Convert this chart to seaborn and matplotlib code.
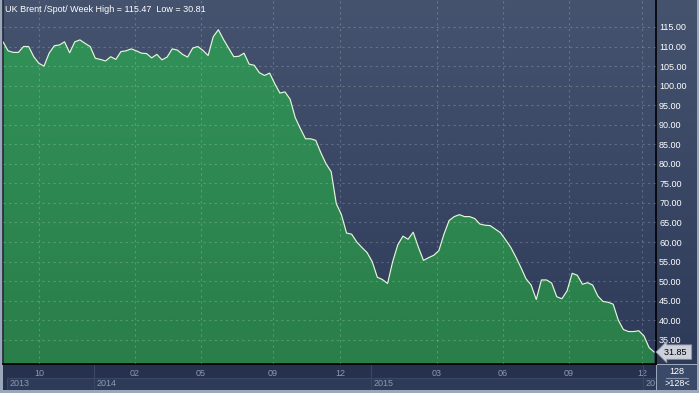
import numpy as np
import pandas as pd
import matplotlib
matplotlib.use("Agg")
import matplotlib.pyplot as plt
import seaborn as sns
from matplotlib.patches import Rectangle
from matplotlib.colors import LinearSegmentedColormap
from matplotlib.lines import Line2D

# weekly closes of UK Brent
prices = [
    111.2, 108.9, 108.5, 108.5, 110.0, 110.0, 107.4, 105.7, 105.0, 108.3,
    110.2, 110.4, 111.2, 108.4, 111.2, 111.7, 110.8, 110.0, 107.0, 106.7,
    106.3, 107.4, 106.7, 108.7, 108.9, 109.4, 108.9, 108.3, 108.2, 107.1,
    108.0, 106.6, 107.3, 109.4, 109.1, 108.0, 107.3, 109.6, 110.0, 109.0,
    107.7, 112.5, 114.3, 111.8, 109.6, 107.4, 107.5, 108.3, 105.5, 105.2,
    103.3, 102.6, 103.2, 100.5, 98.1, 98.4, 96.5, 91.8, 89.0, 86.4,
    86.4, 86.0, 82.8, 80.0, 78.0, 69.8, 67.0, 62.3, 62.0, 60.0,
    58.6, 57.3, 55.0, 51.0, 50.4, 49.4, 55.0, 59.3, 61.5, 60.7,
    62.5, 58.7, 55.3, 56.0, 56.6, 57.8, 62.0, 65.5, 66.5, 67.0,
    66.5, 66.5, 66.0, 64.6, 64.3, 64.2, 63.3, 62.4, 60.6, 58.7,
    56.2, 53.5, 50.6, 49.0, 45.3, 50.3, 50.3, 49.5, 46.0, 45.5,
    47.5, 52.0, 51.5, 49.2, 49.6, 49.0, 46.2, 44.8, 44.6, 44.1,
    40.0, 37.6, 37.1, 37.1, 37.3, 36.0, 33.0, 31.85,
]
last_price = 31.85
title = "UK Brent /Spot/ Week High = 115.47  Low = 30.81"

# month ticks and year bands, in week-index units
month_pos = [7.0, 25.7, 38.6, 52.6, 65.7, 84.6, 97.5, 110.3, 124.6]
month_lbl = ["10", "02", "05", "09", "12", "03", "06", "09", "12"]
year_pos = [0.8, 17.7, 71.7, 124.9, 127.35]
year_lbl = ["2013", "2014", "2015", "20"]
y_ticks = [35, 40, 45, 50, 55, 60, 65, 70, 75, 80, 85, 90, 95, 100, 105, 110, 115]

df = pd.DataFrame({"week": np.arange(len(prices)), "price": prices})

sns.set_style("dark")
plt.rcParams["font.family"] = ["Liberation Sans", "DejaVu Sans"]

W, H = 699, 393
fs = 6.5
XLIM = (0, 127.35)
YLIM = (28.8, 121.9)

fig = plt.figure(figsize=(W / 100, H / 100), dpi=100)
fig.patch.set_facecolor("#9ba7ba")


def box(x0, y0, x1, y1):
    # pixel box (top-left origin) -> figure fraction rect
    return [x0 / W, 1 - y1 / H, (x1 - x0) / W, (y1 - y0) / H]


def rect(x0, y0, x1, y1, color):
    fig.add_artist(Rectangle((x0 / W, 1 - y1 / H), (x1 - x0) / W, (y1 - y0) / H,
                             transform=fig.transFigure, color=color, lw=0, zorder=-5))


# bottom date strip and right price strip
rect(3, 364, 656, 390, "#25314d")
rect(657, 365, 697, 390, "#3b4968")
grad = np.linspace(0, 1, 256).reshape(-1, 1)
bg_cmap = LinearSegmentedColormap.from_list("bg", ["#46536f", "#2d3b59"])

axr = fig.add_axes(box(656, 0, 697, 364))
axr.imshow(grad, cmap=bg_cmap, aspect="auto")
axr.axis("off")
axr.set_zorder(-1)

ax = fig.add_axes(box(3, 0, 656, 364))
ax.set_xlim(XLIM)
ax.set_ylim(YLIM)
ax.imshow(grad, cmap=bg_cmap, extent=[*XLIM, *YLIM], aspect="auto", zorder=0)

# green area with a slight vertical gradient
area = ax.fill_between(df["week"], df["price"], YLIM[0], facecolor="none", lw=0)
green = LinearSegmentedColormap.from_list("gr", ["#32925a", "#2a7e49"])
gim = ax.imshow(grad, cmap=green, extent=[*XLIM, *YLIM], aspect="auto", zorder=1)
gim.set_clip_path(area.get_paths()[0], transform=ax.transData)

sns.lineplot(data=df, x="week", y="price", ax=ax, color="#e4f6da", lw=0.85, zorder=3)
ax.set_xlim(XLIM)
ax.set_ylim(YLIM)
ax.set_xlabel("")
ax.set_ylabel("")

ax.set_axisbelow(False)
ax.grid(True, color="white", alpha=0.2, ls=(0, (2, 3)), lw=0.8)

ax.yaxis.tick_right()
ax.set_yticks(y_ticks, [f"{v:.2f}" for v in y_ticks])
ax.tick_params(axis="y", length=0, pad=2.2, labelcolor="white", labelsize=fs)
ax.set_xticks(month_pos, month_lbl)
ax.tick_params(axis="x", length=0, pad=3.3, labelcolor="#8c99b4", labelsize=fs)

ax.spines["top"].set_visible(False)
for s in ["bottom", "right"]:
    ax.spines[s].set_color("black")
    ax.spines[s].set_linewidth(1.2)
ax.spines["left"].set_color("#222a38")
ax.spines["left"].set_linewidth(1.2)

ax.text(2 / 653, 1 - 10 / 364, title, transform=ax.transAxes, ha="left", va="center",
        color="white", fontsize=fs)

# last value marker
ax.text(1 + 8 / 653, last_price, f"{last_price:.2f} ",
        transform=ax.get_yaxis_transform(), ha="left", va="center", fontsize=fs,
        color="black", clip_on=False,
        bbox=dict(boxstyle="larrow,pad=0.3", fc="#cdd1d9", ec="#8a92a3", lw=0.6))

# year bands under the month labels
axb = fig.add_axes(box(3, 365, 656, 390))
axb.set_xlim(XLIM)
axb.set_ylim(0, 1)
axb.axis("off")
for i, lbl in enumerate(year_lbl):
    x0, x1 = year_pos[i], year_pos[i + 1]
    axb.add_patch(Rectangle((x0, 0.0), x1 - x0, 0.5, fc="#2e3b58", ec="#3a4765", lw=0.8))
    if i > 0:
        axb.axvline(x0, color="#3a4765", lw=0.8)
    axb.text(x0 + 0.5, 0.26, lbl, ha="left", va="center", color="#8c99b4",
             fontsize=fs, clip_on=True)

# point count box
fig.text(677 / W, 1 - 372 / H, "128", ha="center", va="center", color="white", fontsize=fs)
fig.text(677 / W, 1 - 384 / H, ">128<", ha="center", va="center", color="white", fontsize=fs)
fig.add_artist(Line2D([666 / W, 688 / W], [1 - 378 / H] * 2, transform=fig.transFigure,
                      color="#8594ae", lw=0.8))

fig.savefig("out.png", dpi=100, facecolor=fig.get_facecolor())
